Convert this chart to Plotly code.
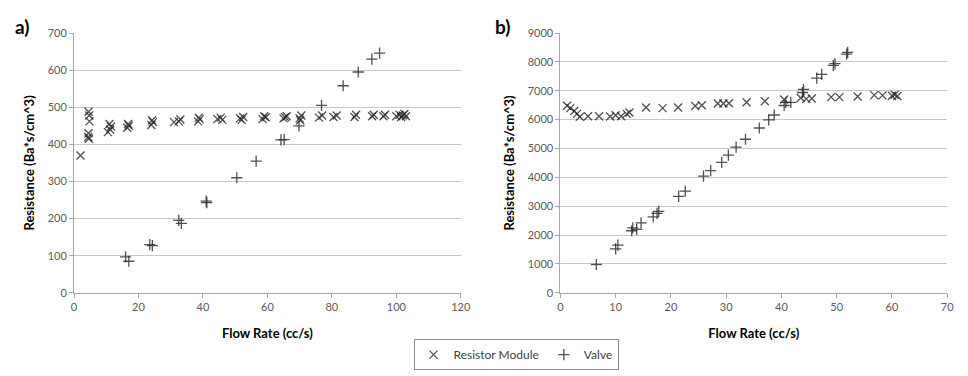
import plotly.graph_objects as go

# ---------------- Panel a data ----------------
a_res_x = [2, 4.5, 4.7, 4.8, 4.5, 4.4, 4.6,
           10.5, 11.2, 11.5, 11.0,
           16.5, 17.0, 16.8,
           24.0, 24.5, 24.2,
           31.0, 32.5, 33.0,
           38.5, 39.0, 38.7,
           44.5, 45.5, 46.0,
           51.5, 52.5, 52.0,
           58.5, 59.5, 59.0,
           65.0, 66.0, 65.5,
           70.0, 70.5, 70.2,
           76.0, 77.0,
           80.5, 81.5,
           87.0, 87.5,
           92.5, 93.0,
           96.0, 96.5,
           100.0, 101.0, 101.5, 102.0, 102.5, 103.0]
a_res_y = [370, 488, 478, 462, 430, 420, 415,
           433, 440, 448, 455,
           445, 450, 455,
           452, 460, 465,
           460, 462, 467,
           462, 468, 472,
           468, 472, 466,
           470, 474, 466,
           468, 473, 476,
           470, 476, 473,
           470, 478, 465,
           472, 478,
           474, 478,
           474, 480,
           476, 480,
           476, 480,
           476, 480, 474, 478, 482, 476]

a_valve_x = [16.0, 17.0, 23.5, 24.3, 32.5, 33.3, 41.0, 41.2, 50.5, 56.5,
             64.2, 65.2, 69.8, 76.8, 83.5, 88.2, 92.4, 94.8]
a_valve_y = [97, 85, 130, 127, 195, 187, 247, 243, 310, 355,
             412, 413, 450, 505, 558, 595, 630, 646]

# ---------------- Panel b data ----------------
b_res_x = [1.2, 1.8, 2.5, 3.0, 3.5, 5.0, 7.0, 9.0, 10.0, 11.0, 12.0, 12.5,
           15.5, 18.5, 21.3, 24.4, 25.6, 28.5, 29.5, 30.5, 33.7, 37.0,
           40.5, 43.5, 44.5, 45.5, 49.0, 50.5, 53.8, 56.8, 58.3, 60.0, 60.5, 61.0]
b_res_y = [6480, 6400, 6300, 6200, 6100, 6120, 6120, 6110, 6150, 6120, 6200, 6250,
           6420, 6400, 6420, 6470, 6500, 6560, 6560, 6570, 6600, 6640,
           6700, 6750, 6720, 6730, 6780, 6780, 6800, 6850, 6840, 6830, 6860, 6820]

b_valve_x = [6.5, 10.0, 10.4, 12.9, 13.1, 13.8, 14.6, 16.8, 17.5, 17.8,
             21.4, 22.6, 25.9, 27.2, 29.2, 30.4, 31.8, 33.5, 36.0, 37.7,
             38.7, 40.5, 40.8, 41.7, 43.8, 44.0, 46.4, 47.3, 49.4, 49.7, 51.8, 52.0]
b_valve_y = [980, 1520, 1650, 2150, 2250, 2200, 2420, 2630, 2750, 2820,
             3340, 3520, 4040, 4230, 4520, 4770, 5045, 5320, 5710, 5990,
             6160, 6490, 6600, 6600, 6940, 7050, 7440, 7570, 7880, 7940, 8270, 8330]

a_xticks = [0, 20, 40, 60, 80, 100, 120]
a_yticks = [0, 100, 200, 300, 400, 500, 600, 700]
b_xticks = [0, 10, 20, 30, 40, 50, 60, 70]
b_yticks = [0, 1000, 2000, 3000, 4000, 5000, 6000, 7000, 8000, 9000]

W, H = 968, 376
FONT = "Lato"
mcol = "rgba(35,35,35,0.8)"

fig = go.Figure()

def add(x, y, sym, name, xa, ya, show):
    fig.add_trace(go.Scatter(
        x=x, y=y, mode="markers", name=name, xaxis=xa, yaxis=ya,
        showlegend=show, legendgroup=name,
        marker=dict(symbol=sym, size=8, color=mcol,
                    line=dict(color=mcol, width=1.3)),
    ))

add(a_res_x, a_res_y, "x-thin-open", "Resistor Module", "x", "y", True)
add(a_valve_x, a_valve_y, "cross-thin-open", "Valve", "x", "y", True)
add(b_res_x, b_res_y, "x-thin-open", "Resistor Module", "x2", "y2", False)
add(b_valve_x, b_valve_y, "cross-thin-open", "Valve", "x2", "y2", False)

ydom = [1 - 296 / H, 1 - 27 / H]
axis_common = dict(
    showline=True, linecolor="#a6a6a6", linewidth=1,
    ticks="outside", ticklen=4, tickcolor="#a6a6a6",
    tickfont=dict(family=FONT, size=11, color="#595959"),
    zeroline=False, mirror=False,
)
tfont = dict(size=13, family=FONT, color="black")

fig.update_layout(
    width=W, height=H,
    margin=dict(l=0, r=0, t=0, b=0),
    paper_bgcolor="white", plot_bgcolor="white",
    font=dict(family=FONT, color="black"),
    xaxis=dict(domain=[72 / W, 464 / W], range=[0, 120], tickvals=a_xticks,
               showgrid=False, anchor="y",
               title=dict(text="<b>Flow Rate (cc/s)</b>", font=tfont, standoff=16),
               **axis_common),
    yaxis=dict(domain=ydom, range=[0, 700], tickvals=a_yticks,
               showgrid=True, gridcolor="#c8c8c8", gridwidth=1, anchor="x",
               title=dict(text="<b>Resistance (Ba*s/cm^3)</b>", font=tfont, standoff=10),
               **axis_common),
    xaxis2=dict(domain=[565 / W, 957 / W], range=[0, 70], tickvals=b_xticks,
                showgrid=False, anchor="y2",
                title=dict(text="<b>Flow Rate (cc/s)</b>", font=tfont, standoff=16),
                **axis_common),
    yaxis2=dict(domain=ydom, range=[0, 9000], tickvals=b_yticks,
                showgrid=True, gridcolor="#c8c8c8", gridwidth=1, anchor="x2",
                title=dict(text="<b>Resistance (Ba*s/cm^3)</b>", font=tfont, standoff=10),
                **axis_common),
    legend=dict(orientation="h", x=520 / W, xanchor="center", y=1 - 344 / H, yanchor="top",
                bordercolor="#8c8c8c", borderwidth=1, bgcolor="white",
                font=dict(family=FONT, size=12, color="#404040")),
    annotations=[
        dict(text="<b>a)</b>", x=10 / W, y=1 - 6 / H, xref="paper", yref="paper",
             xanchor="left", yanchor="top", showarrow=False, font=dict(size=19, family=FONT)),
        dict(text="<b>b)</b>", x=497 / W, y=1 - 6 / H, xref="paper", yref="paper",
             xanchor="left", yanchor="top", showarrow=False, font=dict(size=19, family=FONT)),
    ],
)

fig.write_html("out.html")
